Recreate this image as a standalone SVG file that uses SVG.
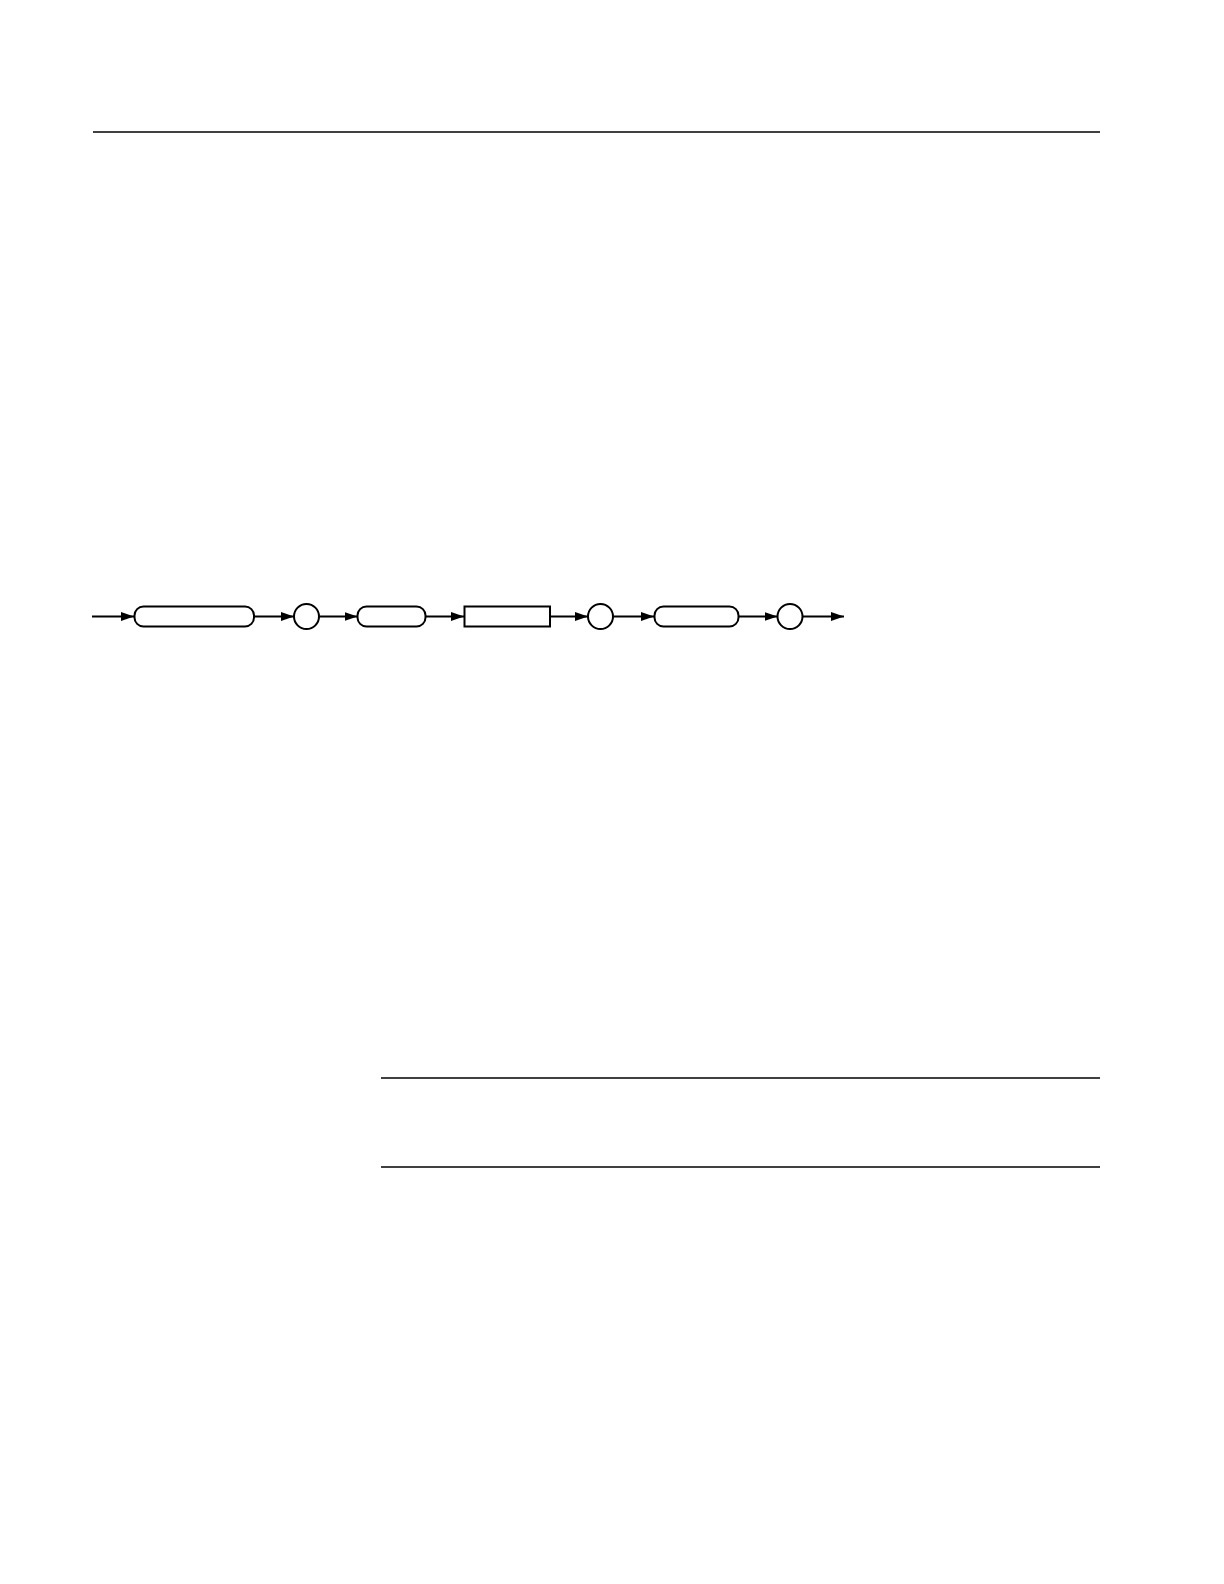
<svg xmlns="http://www.w3.org/2000/svg" width="1224" height="1584" viewBox="0 0 1224 1584">
<defs>
<style>
.rule{stroke:#000;stroke-width:1.5;fill:none}
.node{stroke:#000;stroke-width:2;fill:#fff}
.conn{stroke:#000;stroke-width:1.8;fill:none}
</style>
<marker id="ah" viewBox="0 0 13 9" refX="13" refY="4.5" markerWidth="13" markerHeight="9" markerUnits="userSpaceOnUse" orient="auto">
<path d="M0,0 L13,4.5 L0,9 Z" fill="#000"/>
</marker>
</defs>
<rect width="1224" height="1584" fill="#fff"/>
<line class="rule" x1="93" y1="132" x2="1100" y2="132"/>
<line class="rule" x1="381" y1="1078" x2="1100" y2="1078"/>
<line class="rule" x1="381" y1="1167" x2="1100" y2="1167"/>
<g id="connectors">
<line class="conn" x1="92" y1="616.5" x2="134" y2="616.5" marker-end="url(#ah)"/>
<line class="conn" x1="254" y1="616.5" x2="294" y2="616.5" marker-end="url(#ah)"/>
<line class="conn" x1="319" y1="616.5" x2="357.5" y2="616.5" marker-end="url(#ah)"/>
<line class="conn" x1="425.5" y1="616.5" x2="464" y2="616.5" marker-end="url(#ah)"/>
<line class="conn" x1="550" y1="616.5" x2="588" y2="616.5" marker-end="url(#ah)"/>
<line class="conn" x1="613" y1="616.5" x2="654" y2="616.5" marker-end="url(#ah)"/>
<line class="conn" x1="738.5" y1="616.5" x2="777.5" y2="616.5" marker-end="url(#ah)"/>
<line class="conn" x1="802.5" y1="616.5" x2="844" y2="616.5" marker-end="url(#ah)"/>
</g>
<g id="n1"><rect class="node" x="134.5" y="606.5" width="119.5" height="20" rx="9"/></g>
<g id="n2"><circle class="node" cx="306.5" cy="616.5" r="12.5"/></g>
<g id="n3"><rect class="node" x="357.5" y="606.5" width="68" height="20" rx="9"/></g>
<g id="n4"><rect class="node" x="464.5" y="606.5" width="85.5" height="20"/></g>
<g id="n5"><circle class="node" cx="600.5" cy="616.5" r="12.5"/></g>
<g id="n6"><rect class="node" x="654.5" y="606.5" width="84" height="20" rx="9"/></g>
<g id="n7"><circle class="node" cx="790" cy="616.5" r="12.5"/></g>
</svg>
